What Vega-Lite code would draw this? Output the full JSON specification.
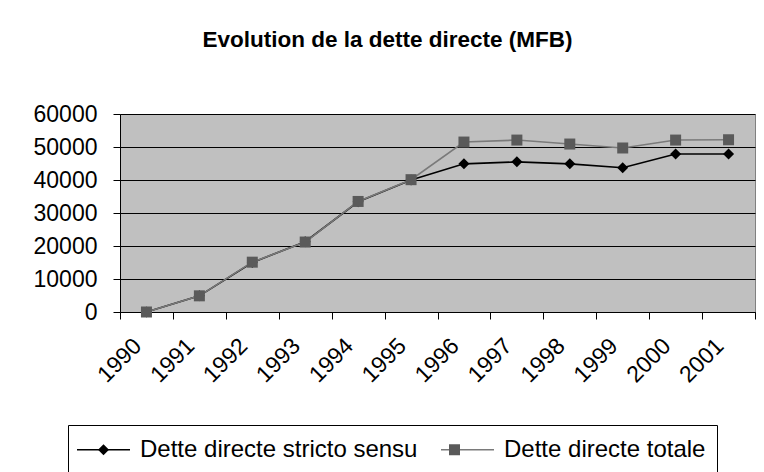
{
  "$schema": "https://vega.github.io/schema/vega-lite/v6.json",
  "width": 635,
  "height": 198,
  "padding": {"left": 33, "top": 28, "right": 0, "bottom": 0},
  "background": "#ffffff",
  "title": {
    "text": "Evolution de la dette directe (MFB)",
    "font": "Liberation Sans",
    "fontSize": 22.5,
    "fontWeight": "bold",
    "color": "#000000",
    "anchor": "middle",
    "dx": -50,
    "offset": 52
  },
  "data": {
    "values": [
      {"year": "1990", "series": "Dette directe stricto sensu", "value": 0},
      {"year": "1991", "series": "Dette directe stricto sensu", "value": 4900},
      {"year": "1992", "series": "Dette directe stricto sensu", "value": 15000},
      {"year": "1993", "series": "Dette directe stricto sensu", "value": 21300},
      {"year": "1994", "series": "Dette directe stricto sensu", "value": 33400},
      {"year": "1995", "series": "Dette directe stricto sensu", "value": 40000},
      {"year": "1996", "series": "Dette directe stricto sensu", "value": 44900},
      {"year": "1997", "series": "Dette directe stricto sensu", "value": 45500},
      {"year": "1998", "series": "Dette directe stricto sensu", "value": 44900},
      {"year": "1999", "series": "Dette directe stricto sensu", "value": 43700},
      {"year": "2000", "series": "Dette directe stricto sensu", "value": 47900},
      {"year": "2001", "series": "Dette directe stricto sensu", "value": 47900},
      {"year": "1990", "series": "Dette directe totale", "value": 0},
      {"year": "1991", "series": "Dette directe totale", "value": 4900},
      {"year": "1992", "series": "Dette directe totale", "value": 15100},
      {"year": "1993", "series": "Dette directe totale", "value": 21200},
      {"year": "1994", "series": "Dette directe totale", "value": 33500},
      {"year": "1995", "series": "Dette directe totale", "value": 40100},
      {"year": "1996", "series": "Dette directe totale", "value": 51500},
      {"year": "1997", "series": "Dette directe totale", "value": 52100},
      {"year": "1998", "series": "Dette directe totale", "value": 50900},
      {"year": "1999", "series": "Dette directe totale", "value": 49700},
      {"year": "2000", "series": "Dette directe totale", "value": 52100},
      {"year": "2001", "series": "Dette directe totale", "value": 52200}
    ]
  },
  "encoding": {
    "x": {
      "field": "year",
      "type": "ordinal",
      "scale": {"type": "band", "paddingInner": 0, "paddingOuter": 0},
      "axis": {
        "title": null,
        "labelAngle": -45,
        "labelAlign": "right",
        "labelBaseline": "middle",
        "labelPadding": 23,
        "labelOffset": -9,
        "labelFontSize": 23,
        "labelFont": "Liberation Sans",
        "labelColor": "#000000",
        "tickBand": "extent",
        "tickSize": 7,
        "tickColor": "#000000",
        "domainColor": "#000000",
        "grid": false
      }
    },
    "y": {
      "field": "value",
      "type": "quantitative",
      "scale": {"domain": [0, 60000], "nice": false},
      "axis": {
        "title": null,
        "values": [0, 10000, 20000, 30000, 40000, 50000, 60000],
        "format": "d",
        "labelFontSize": 23,
        "labelFont": "Liberation Sans",
        "labelColor": "#000000",
        "labelPadding": 16,
        "tickSize": 7,
        "tickColor": "#000000",
        "domainColor": "#000000",
        "grid": true,
        "gridColor": "#000000",
        "gridWidth": 1
      }
    }
  },
  "layer": [
    {
      "mark": {"type": "line", "strokeWidth": 1.6},
      "encoding": {
        "color": {
          "field": "series",
          "type": "nominal",
          "scale": {"domain": ["Dette directe stricto sensu", "Dette directe totale"], "range": ["#000000", "#7a7a7a"]},
          "legend": {
            "title": null,
            "orient": "none",
            "direction": "horizontal",
            "legendX": -52,
            "legendY": 311,
            "strokeColor": "#000000",
            "padding": 11,
            "symbolType": "M-2.12,0H2.12",
            "symbolSize": 625,
            "symbolOffset": 11,
            "symbolStrokeWidth": 1.6,
            "labelFontSize": 24,
            "labelFont": "Liberation Sans",
            "labelColor": "#000000",
            "labelLimit": 0,
            "labelOffset": 23,
            "columnPadding": 19
          }
        }
      }
    },
    {
      "mark": {"type": "point", "filled": true, "opacity": 1, "size": 625, "strokeWidth": 0},
      "encoding": {
        "shape": {
          "field": "series",
          "type": "nominal",
          "scale": {"range": ["M0,-0.44L0.44,0L0,0.44L-0.44,0Z", "M-0.44,-0.44H0.44V0.44H-0.44Z"]},
          "legend": {
            "title": null,
            "orient": "none",
            "direction": "horizontal",
            "legendX": -52,
            "legendY": 311,
            "padding": 11,
            "symbolSize": 625,
            "symbolOffset": 11,
            "symbolStrokeWidth": 1.6,
            "labelFontSize": 24,
            "labelFont": "Liberation Sans",
            "labelColor": "transparent",
            "labelExpr": "' '",
            "labelLimit": 0,
            "labelOffset": 23,
            "columnPadding": 290
          }
        },
        "fill": {
          "field": "series",
          "type": "nominal",
          "scale": {"range": ["#000000", "#5a5a5a"]},
          "legend": {
            "title": null,
            "orient": "none",
            "direction": "horizontal",
            "legendX": -52,
            "legendY": 311,
            "padding": 11,
            "symbolSize": 625,
            "symbolOffset": 11,
            "symbolStrokeWidth": 1.6,
            "labelFontSize": 24,
            "labelFont": "Liberation Sans",
            "labelColor": "transparent",
            "labelExpr": "' '",
            "labelLimit": 0,
            "labelOffset": 23,
            "columnPadding": 290
          }
        }
      }
    }
  ],
  "config": {
    "view": {"fill": "#c0c0c0", "stroke": "#808080", "strokeWidth": 1},
    "font": "Liberation Sans"
  }
}
